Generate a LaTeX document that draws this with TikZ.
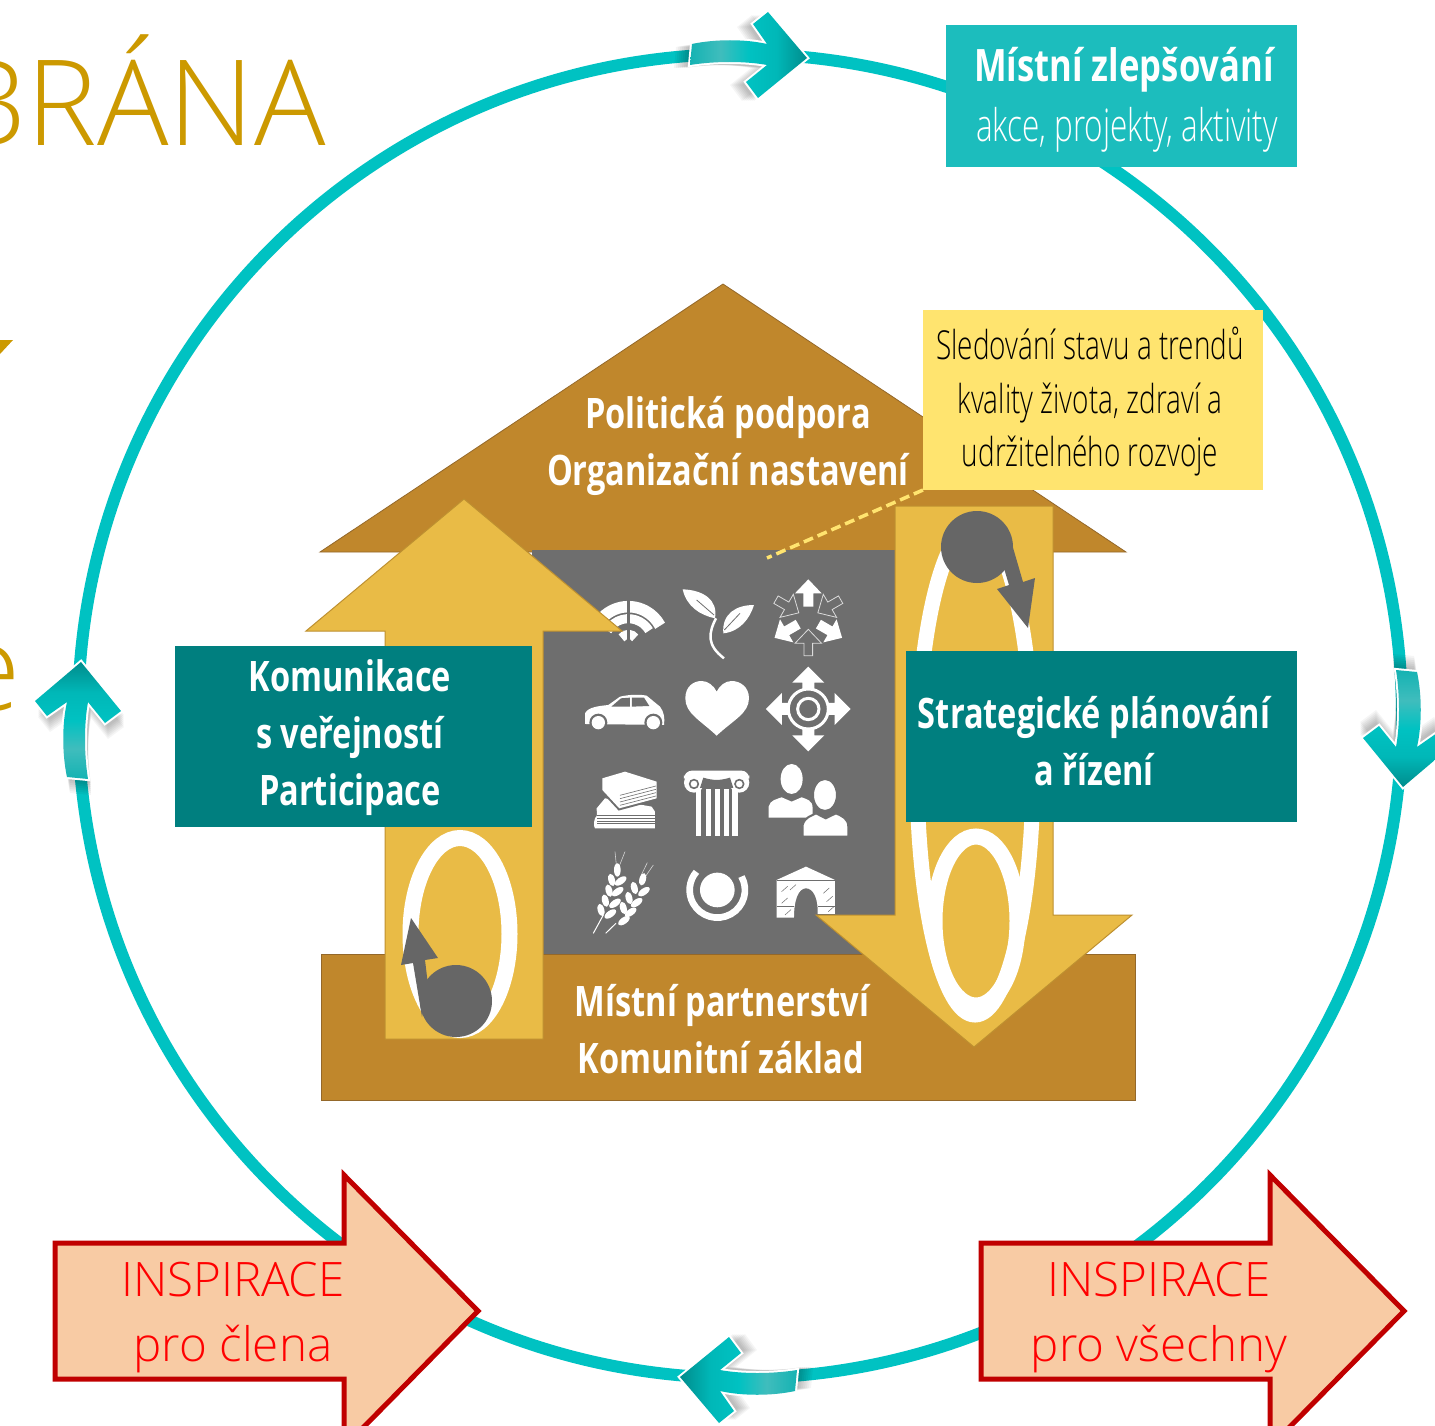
\documentclass[tikz,border=0pt]{standalone}
\usepackage{fontspec}
\setmainfont{Carlito}
\newfontfamily\condfont[FakeStretch=0.775]{Open Sans}
\newfontfamily\narrowfont[FakeStretch=0.7]{Open Sans Light}
\newfontfamily\thinfont{Open Sans Light}
\definecolor{ringteal}{HTML}{00C2C2}
\definecolor{boxteal}{HTML}{1CBDBD}
\definecolor{darkteal}{HTML}{007F7F}
\definecolor{housebrown}{HTML}{C0872C}
\definecolor{houseedge}{HTML}{94682A}
\definecolor{arrowyellow}{HTML}{E9BB46}
\definecolor{arrowedge}{HTML}{BE9030}
\definecolor{iconback}{HTML}{6E6E6E}
\definecolor{ballgray}{HTML}{666666}
\definecolor{notefill}{HTML}{FFE46F}
\definecolor{titlegold}{HTML}{CC9900}
\definecolor{inspirefill}{HTML}{F8CBA4}
\definecolor{inspireedge}{HTML}{C00000}
\pgfdeclarehorizontalshading{ringshade}{100bp}{rgb(0bp)=(0.08,0.70,0.70);rgb(25bp)=(0.08,0.70,0.70);rgb(38bp)=(0.25,0.74,0.74);rgb(50bp)=(0,0.76,0.76);rgb(62bp)=(0,0.72,0.72);rgb(75bp)=(0,0.55,0.55);rgb(100bp)=(0,0.55,0.55)}
\tikzset{
    ringpath/.style={insert path={(692,44) .. controls (715,39) and (745,39) .. (767,44) -- (753,24) -- (768,12) -- (807,58) -- (758,98) -- (746,82) -- (767,65) .. controls (745,61) and (715,61) .. (690,65) -- cycle}},
    inspirepath/.style={insert path={(55,1243) -- (344,1243) -- (344,1175) -- (478,1311) -- (344,1447) -- (344,1379) -- (55,1379) -- cycle}},
    housepart/.style={fill=housebrown,draw=houseedge,line width=.8pt},
    yellowarrow/.style={fill=arrowyellow,draw=arrowedge,line width=1pt},
    whitering/.style={draw=white,line width=16pt},
    tealbox/.style={fill=darkteal,inner sep=0pt,outer sep=0pt},
    boldtext/.style={text=white,inner sep=0pt,align=center,font=\condfont\bfseries\fontsize{42}{57}\selectfont},
    inspiretext/.style={text=red,inner sep=0pt,align=center,font=\thinfont\fontsize{47.5}{65}\selectfont},
    iconunits/.style={shift={(540,550)},x=0.3333pt,y=-0.3333pt}
}
\begin{document}
\begin{tikzpicture}[x=1pt,y=-1pt]
    \path[use as bounding box,clip] (0,0) rectangle (1435,1426);
    \fill[white] (0,0) rectangle (1435,1426);

    \node[anchor=base east,inner sep=0pt,text=titlegold,font=\thinfont\fontsize{119}{119}\selectfont] (titlegate) at (326,146) {BRÁNA};
    \node[anchor=base east,inner sep=0pt,text=titlegold,font=\thinfont\fontsize{119}{119}\selectfont] (titleend) at (21,710) {e};
    \fill[titlegold] (0,340) -- (13,340) -- (0,354) -- cycle;

    \draw[ringteal,line width=12pt] (740,716) circle (662);

    \foreach \ang/\shx/\shy in {0/0/0,-90/5/4,180/7/3,90/-1/13} {
        \begin{scope}[shift={(\shx,\shy)},rotate around={\ang:(740,716)}]
            \foreach \off in {4,6,8,10,12,14,16}
                \fill[shift={(-\off,3)},black,fill opacity=.04,ringpath];
            \draw[white,line width=4pt,ringpath];
            \shade[shading=ringshade,shading angle=\ang,ringpath];
        \end{scope}
    }

    \draw[housepart] (320,552) -- (723,284) -- (1126,552) -- cycle;
    \draw[housepart] (321,954) rectangle (1135,1100);
    \fill[iconback] (532,550) rectangle (895,954);

    \begin{scope}[iconunits]
        \draw[white,line width=11.5pt] (265,278) ++(-152:108) arc[start angle=-152,end angle=-28,radius=108];
        \draw[white,line width=9pt] (265,278) ++(-150:72) arc[start angle=-150,end angle=-30,radius=72];
        \draw[white,line width=9pt] (265,278) ++(-145:25) arc[start angle=-145,end angle=-35,radius=25];
        \draw[iconback,line width=2.5pt] (265,140) -- (265,285);

        \fill[white] (428,118) .. controls (490,120) and (535,150) .. (525,205) .. controls (480,195) and (440,170) .. (428,118) -- cycle;
        \fill[white] (642,165) .. controls (590,165) and (545,190) .. (550,250) .. controls (600,245) and (630,205) .. (642,165) -- cycle;
        \draw[iconback,line width=.8pt] (470,150) -- (522,195);
        \draw[iconback,line width=.8pt] (600,190) -- (553,240);
        \draw[white,line width=2.5pt] (552,325) .. controls (500,285) and (505,250) .. (528,205);

        \foreach \a in {0,120,240}
            \fill[white,rotate around={\a:(805,205)}] (805,88) -- (845,130) -- (820,130) -- (820,170) -- (790,170) -- (790,130) -- (765,130) -- cycle;
        \foreach \a in {60,180,300}
            \draw[white!75!iconback,line width=.8pt,rotate around={\a:(805,205)}] (805,172) -- (845,130) -- (818,130) -- (818,93) -- (792,93) -- (792,130) -- (765,130) -- cycle;

        \fill[white] (135,522) -- (135,490) .. controls (145,470) and (180,468) .. (205,465) -- (240,440) .. controls (270,433) and (300,433) .. (320,437) -- (360,470) .. controls (372,485) and (375,505) .. (372,525) -- cycle;
        \fill[iconback] (214,470) -- (243,445) -- (270,443) -- (270,470) -- cycle;
        \fill[iconback] (276,443) -- (312,443) -- (328,468) -- (276,470) -- cycle;
        \foreach \wheelx in {175,340} {
            \fill[iconback] (\wheelx,518) circle (27);
            \fill[white] (\wheelx,518) circle (20);
        }

        \fill[white] (530,557) .. controls (480,510) and (436,490) .. (436,445) .. controls (436,410) and (460,393) .. (485,393) .. controls (505,393) and (522,408) .. (530,425) .. controls (538,408) and (555,393) .. (575,393) .. controls (600,393) and (627,410) .. (627,445) .. controls (627,490) and (580,510) .. (530,557) -- cycle;

        \foreach \a in {0,90,180,270}
            \fill[white,rotate around={\a:(805,477)}] (805,350) -- (853,398) -- (823,398) -- (823,425) -- (787,425) -- (787,398) -- (757,398) -- cycle;
        \fill[iconback] (805,477) circle (58);
        \draw[white,line width=3pt] (805,477) circle (60);
        \draw[white,line width=3pt] (805,477) circle (32);

        \fill[white] (170,775) -- (195,745) -- (335,770) -- (345,785) -- (345,795) -- (172,795) .. controls (160,805) and (160,830) .. (165,835) -- (345,835) -- (345,830) -- (172,830) -- cycle;
        \fill[white] (172,785) rectangle (345,830);
        \foreach \linky in {797,805,813,821}
            \draw[iconback,line width=.6pt] (172,\linky) -- (345,\linky);
        \draw[iconback,line width=4pt,fill=white] (187,685) -- (255,665) -- (350,695) -- (350,745) -- (238,775) -- (187,720) -- cycle;
        \fill[white] (187,685) -- (255,665) -- (350,695) -- (350,745) -- (238,775) -- (187,720) -- cycle;
        \foreach \linky in {0,10,20,30}
            \draw[iconback,line width=.6pt] (240,738+\linky) ++(0,-2) -- (348,708+\linky);

        \fill[white,rounded corners=8pt] (432,662) rectangle (628,700);
        \fill[white] (462,698) circle (30);
        \fill[white] (598,698) circle (30);
        \fill[iconback] (490,683) .. controls (520,692) and (540,692) .. (570,683) -- (580,714) -- (480,714) -- cycle;
        \draw[iconback,line width=1.6pt] (462,702) circle (13);
        \draw[iconback,line width=1.6pt] (598,702) circle (13);
        \foreach \stripex in {468,497,524,551,577}
            \fill[white] (\stripex,718) rectangle ++(16,140);

        \fill[white] (755,687) circle[x radius=33,y radius=45];
        \fill[white] (686,803) -- (686,770) .. controls (690,750) and (710,748) .. (725,742) -- (755,755) -- (785,742) .. controls (800,748) and (818,750) .. (818,775) -- (818,803) -- cycle;
        \draw[iconback,line width=2pt,fill=white] (855,735) circle[x radius=36,y radius=48];
        \draw[iconback,line width=2pt,fill=white] (788,860) -- (788,825) .. controls (795,800) and (815,798) .. (828,790) -- (857,805) -- (888,790) .. controls (905,798) and (925,805) .. (925,830) -- (925,860) -- cycle;

        \draw[white,line width=1pt] (160,1150) -- (190,1095);
        \draw[white,line width=1pt] (197,1150) -- (228,1120);
        \draw[white!70!iconback,line width=.6pt] (225,905) -- (229,945);
        \draw[white!70!iconback,line width=.6pt] (255,905) -- (238,948);
        \draw[white!70!iconback,line width=.6pt] (322,938) -- (304,975);
        \draw[white!70!iconback,line width=.6pt] (340,945) -- (316,980);
        \fill[white] (232,960) circle[x radius=10,y radius=20];
        \fill[white] (308,988) circle[x radius=10,y radius=19,rotate=-15];
        \foreach \grainx/\grainy in {215/990,207/1022,196/1052,183/1080,283/1014,267/1044,250/1074}
            \fill[white] (\grainx,\grainy) circle[x radius=10,y radius=19,rotate=15];
        \foreach \grainx/\grainy in {242/993,233/1025,225/1060,211/1092,312/1025,290/1058,272/1087,252/1112}
            \fill[white] (\grainx,\grainy) circle[x radius=10,y radius=20,rotate=-55];

        \fill[white] (532,1020) circle (52);
        \draw[white,line width=6.7pt] (532,1020) ++(-29:83) arc[start angle=-29,end angle=221,radius=83];

        \fill[white] (710,1103) -- (710,990) -- (798,950) -- (885,990) -- (885,1092) -- (833,1092) .. controls (835,1045) and (820,1015) .. (798,1015) .. controls (775,1015) and (762,1050) .. (762,1103) -- cycle;
        \draw[iconback,line width=.5pt] (710,990) -- (885,990);
        \draw[iconback,line width=.5pt] (710,1068) -- (762,1068);
        \draw[iconback,line width=.5pt] (835,1068) -- (885,1068);
        \foreach \hatchx/\hatchy in {725/1025,750/1020,725/1060,850/1030,860/1055,735/1095,865/1085}
            \draw[iconback,line width=.5pt] (\hatchx,\hatchy) -- ++(18,-16);
    \end{scope}

    \node[boldtext,anchor=base] (politics) at (728,428) {Politická podpora};
    \node[boldtext,anchor=base] (setup) at (728,485) {Organizační nastavení};
    \node[boldtext,anchor=base] (partners) at (722,1016) {Místní partnerství};
    \node[boldtext,anchor=base] (community) at (721,1073) {Komunitní základ};

    \draw[yellowarrow] (385,1039) -- (385,631) -- (306,631) -- (464,499) -- (622,631) -- (543,631) -- (543,1039) -- cycle;
    \draw[yellowarrow] (895,506) -- (895,915) -- (816,915) -- (974,1047) -- (1132,915) -- (1053,915) -- (1053,506) -- cycle;

    \draw[whitering] (460,934) circle[x radius=49.5,y radius=96];
    \draw[whitering,line width=15pt] (975,770) circle[x radius=58,y radius=245];
    \draw[whitering] (976,921) circle[x radius=41.5,y radius=84.5];

    \fill[ballgray] (456,1001) circle (36);
    \fill[ballgray] (422,1017) -- (413,963) -- (401,965) -- (411,918) -- (438,958) -- (425,960) -- (428,985) -- cycle;
    \fill[ballgray] (977,547) circle (36);
    \fill[ballgray] (1007,527) -- (1023,582) -- (1035,578) -- (1028,628) -- (997,589) -- (1009,585) -- (1003,565) -- cycle;

    \node[tealbox,minimum width=357pt,minimum height=181pt] (publicbox) at (353.5,736.5) {};
    \node[boldtext] (publictext) at (350,737.5) {Komunikace\\s veřejností\\Participace};
    \node[tealbox,minimum width=391pt,minimum height=171pt] (planbox) at (1101.5,736.5) {};
    \node[boldtext] (plantext) at (1094,741) {Strategické plánování\\a řízení};
    \node[tealbox,fill=boxteal,minimum width=351pt,minimum height=142pt] (improvebox) at (1121.5,96) {};
    \node[boldtext,anchor=base,font=\condfont\bfseries\fontsize{44.7}{44.7}\selectfont] (improvetitle) at (1124,82) {Místní zlepšování};
    \node[anchor=base,text=white,inner sep=0pt,font=\narrowfont\fontsize{45}{45}\selectfont] (improvesub) at (1127,142) {akce, projekty, aktivity};

    \node[fill=notefill,inner sep=0pt,outer sep=0pt,minimum width=340pt,minimum height=180pt] (notebox) at (1093,400) {};
    \node[inner sep=0pt,align=center,font=\narrowfont\fontsize{39.9}{53.5}\selectfont] (notetext) at (1090,402) {Sledování stavu a trendů\\kvality života, zdraví a\\udržitelného rozvoje};
    \coordinate (notetarget) at (767,558);
    \draw[notefill,line width=3.5pt,dash pattern=on 10pt off 5pt] (notebox.south west) -- (notetarget);

    \draw[inspireedge,fill=inspirefill,line width=5pt,inspirepath];
    \draw[shift={(926,0)},inspireedge,fill=inspirefill,line width=5pt,inspirepath];
    \node[inspiretext] (inspireone) at (233,1317) {INSPIRACE\\pro člena};
    \node[inspiretext] (inspireall) at (1159,1317) {INSPIRACE\\pro všechny};
\end{tikzpicture}
\end{document}
